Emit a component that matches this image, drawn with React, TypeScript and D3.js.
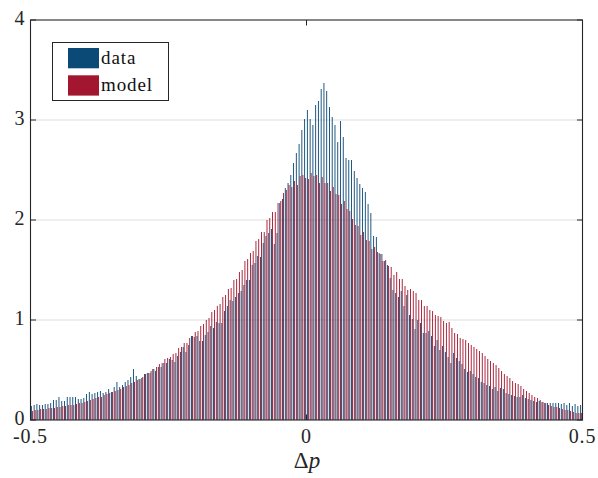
import React from "react";
import * as d3 from "d3";

// histogram of price change, 200 bins of width 0.005 between -0.5 and 0.5
const BIN_START = -0.5;
const BIN_WIDTH = 0.005;

const dataCounts = [
  0.14, 0.15, 0.16, 0.15, 0.15, 0.16, 0.16, 0.17, 0.2, 0.2,
  0.23, 0.19, 0.19, 0.23, 0.23, 0.23, 0.23, 0.21, 0.21, 0.22,
  0.26, 0.28, 0.26, 0.27, 0.28, 0.29, 0.27, 0.28, 0.31, 0.28,
  0.33, 0.38, 0.33, 0.35, 0.38, 0.4, 0.43, 0.51, 0.44, 0.41,
  0.42, 0.46, 0.47, 0.47, 0.51, 0.49, 0.53, 0.53, 0.57, 0.57,
  0.61, 0.6, 0.58, 0.64, 0.68, 0.73, 0.68, 0.75, 0.84, 0.83,
  0.84, 0.79, 0.79, 0.85, 0.88, 0.94, 0.92, 0.98, 0.97, 0.97,
  1.09, 1.14, 1.2, 1.19, 1.23, 1.27, 1.29, 1.35, 1.4, 1.4,
  1.55, 1.57, 1.64, 1.63, 1.77, 1.84, 1.87, 1.91, 1.76, 1.87,
  2.17, 2.21, 2.32, 2.37, 2.45, 2.57, 2.67, 2.76, 2.9, 3.01,
  3.1, 3.01, 2.95, 3.15, 3.19, 3.31, 3.37, 3.29, 3.13, 3.03,
  2.95, 2.78, 2.99, 2.83, 2.62, 2.6, 2.6, 2.49, 2.42, 2.36,
  2.32, 2.28, 2.16, 2.07, 1.84, 1.83, 1.67, 1.66, 1.59, 1.55,
  1.42, 1.3, 1.27, 1.23, 1.29, 1.14, 1.25, 1.05, 1.01, 0.91,
  1.0, 0.97, 0.87, 0.87, 0.89, 0.84, 0.74, 0.8, 0.7, 0.74,
  0.68, 0.63, 0.57, 0.67, 0.62, 0.59, 0.56, 0.51, 0.48, 0.49,
  0.46, 0.43, 0.42, 0.38, 0.37, 0.35, 0.34, 0.31, 0.33, 0.29,
  0.32, 0.31, 0.27, 0.26, 0.25, 0.24, 0.23, 0.23, 0.25, 0.22,
  0.21, 0.2, 0.19, 0.18, 0.19, 0.18, 0.17, 0.17, 0.17, 0.17,
  0.17, 0.17, 0.16, 0.17, 0.15, 0.17, 0.14, 0.16, 0.14, 0.15,
];

const modelCounts = [
  0.09, 0.1, 0.1, 0.11, 0.11, 0.11, 0.12, 0.12, 0.12, 0.13,
  0.13, 0.14, 0.14, 0.15, 0.15, 0.15, 0.16, 0.17, 0.17, 0.18,
  0.19, 0.2, 0.21, 0.22, 0.23, 0.23, 0.25, 0.26, 0.27, 0.28,
  0.29, 0.3, 0.31, 0.33, 0.34, 0.35, 0.37, 0.38, 0.4, 0.41,
  0.43, 0.46, 0.47, 0.49, 0.51, 0.53, 0.56, 0.57, 0.61, 0.62,
  0.63, 0.66, 0.67, 0.72, 0.73, 0.77, 0.77, 0.82, 0.84, 0.88,
  0.89, 0.94, 0.96, 1.0, 1.02, 1.08, 1.1, 1.14, 1.16, 1.23,
  1.25, 1.31, 1.32, 1.4, 1.41, 1.48, 1.5, 1.59, 1.61, 1.67,
  1.69, 1.79, 1.81, 1.88, 1.88, 2.0, 2.02, 2.08, 2.08, 2.17,
  2.19, 2.27, 2.3, 2.35, 2.33, 2.39, 2.35, 2.44, 2.45, 2.42,
  2.41, 2.47, 2.44, 2.45, 2.37, 2.43, 2.37, 2.37, 2.29, 2.33,
  2.26, 2.25, 2.16, 2.19, 2.11, 2.09, 2.01, 1.95, 1.94, 1.85,
  1.88, 1.8, 1.79, 1.71, 1.73, 1.68, 1.66, 1.59, 1.6, 1.54,
  1.53, 1.45, 1.48, 1.41, 1.41, 1.34, 1.3, 1.31, 1.29, 1.27,
  1.2, 1.2, 1.14, 1.14, 1.1, 1.09, 1.05, 1.04, 1.03, 0.99,
  0.97, 0.98, 0.92, 0.87, 0.86, 0.82, 0.81, 0.8, 0.77, 0.75,
  0.73, 0.71, 0.69, 0.67, 0.64, 0.61, 0.59, 0.57, 0.55, 0.52,
  0.49, 0.46, 0.44, 0.42, 0.39, 0.37, 0.36, 0.34, 0.31, 0.29,
  0.27, 0.25, 0.23, 0.22, 0.2, 0.18, 0.17, 0.15, 0.14, 0.13,
  0.13, 0.12, 0.11, 0.1, 0.1, 0.09, 0.08, 0.07, 0.07, 0.07,
];

const xTicks = [-0.5, 0, 0.5];
const xTickLabels = ["-0.5", "0", "0.5"];
const yTicks = [0, 1, 2, 3, 4];
const legendLabels = ["data", "model"];

const BLUE = "#0b4a77";
const RED = "#a3162f";
const AXIS = "#262626";
const FONT = "'Liberation Serif', 'Times New Roman', serif";

export default function App() {
  const width = 598;
  const height = 478;
  const margin = { top: 20, right: 15.5, bottom: 58, left: 30.5 };

  const x = d3
    .scaleLinear()
    .domain([-0.5, 0.5])
    .range([margin.left, width - margin.right]);
  const y = d3
    .scaleLinear()
    .domain([0, 4])
    .range([height - margin.bottom, margin.top]);

  const x0 = x.range()[0];
  const x1 = x.range()[1];
  const y0 = y.range()[0];
  const y1 = y.range()[1];

  const binPx = x(BIN_START + BIN_WIDTH) - x(BIN_START);
  const barW = binPx * 0.33;
  const tick = 5.5;

  const bars = (values: number[], offset: number, color: string) =>
    values.map((v, i) => {
      const left = x(BIN_START + i * BIN_WIDTH) + binPx * offset;
      return (
        <rect
          key={i}
          x={left}
          y={y(v)}
          width={barW}
          height={y0 - y(v)}
          fill={color}
        />
      );
    });

  return (
    <div style={{ position: "absolute", left: 0, top: 0 }}>
      <svg width={width} height={height} style={{ display: "block", background: "#fff" }}>
        {/* grid */}
        {yTicks.slice(1, -1).map((t) => (
          <line key={t} x1={x0} x2={x1} y1={y(t)} y2={y(t)} stroke="#dedede" strokeWidth={1} />
        ))}

        {bars(dataCounts, 0.15, BLUE)}
        {bars(modelCounts, 0.52, RED)}

        {/* axes box */}
        <rect x={x0} y={y1} width={x1 - x0} height={y0 - y1} fill="none" stroke={AXIS} strokeWidth={1.1} />

        {xTicks.map((t, i) => (
          <g key={t}>
            <line x1={x(t)} x2={x(t)} y1={y0} y2={y0 - tick} stroke={AXIS} />
            <line x1={x(t)} x2={x(t)} y1={y1} y2={y1 + tick} stroke={AXIS} />
            <text
              x={x(t)}
              y={y0 + 23}
              textAnchor="middle"
              fontFamily={FONT}
              fontSize={20}
              letterSpacing={0.8}
              fill={AXIS}
            >
              {xTickLabels[i]}
            </text>
          </g>
        ))}

        {yTicks.map((t) => (
          <g key={t}>
            <line x1={x0} x2={x0 + tick} y1={y(t)} y2={y(t)} stroke={AXIS} />
            <line x1={x1} x2={x1 - tick} y1={y(t)} y2={y(t)} stroke={AXIS} />
            <text
              x={x0 - 6}
              y={y(t) - 2}
              dy="0.35em"
              textAnchor="end"
              fontFamily={FONT}
              fontSize={20}
              fill={AXIS}
            >
              {t}
            </text>
          </g>
        ))}

        {/* x label */}
        <text x={307} y={468} textAnchor="middle" fontFamily={FONT} fontSize={23} fill={AXIS}>
          Δ<tspan fontStyle="italic">p</tspan>
        </text>

        {/* legend */}
        <g>
          <rect x={52.5} y={42.5} width={116} height={58} fill="#fff" stroke={AXIS} strokeWidth={1} />
          {legendLabels.map((lab, i) => (
            <g key={lab} transform={`translate(68, ${48 + i * 27.3})`}>
              <rect width={31} height={20.3} fill={i === 0 ? BLUE : RED} />
              <text x={33} y={15.5} fontFamily={FONT} fontSize={19} letterSpacing={0.9} fill="#111">
                {lab}
              </text>
            </g>
          ))}
        </g>
      </svg>
    </div>
  );
}
